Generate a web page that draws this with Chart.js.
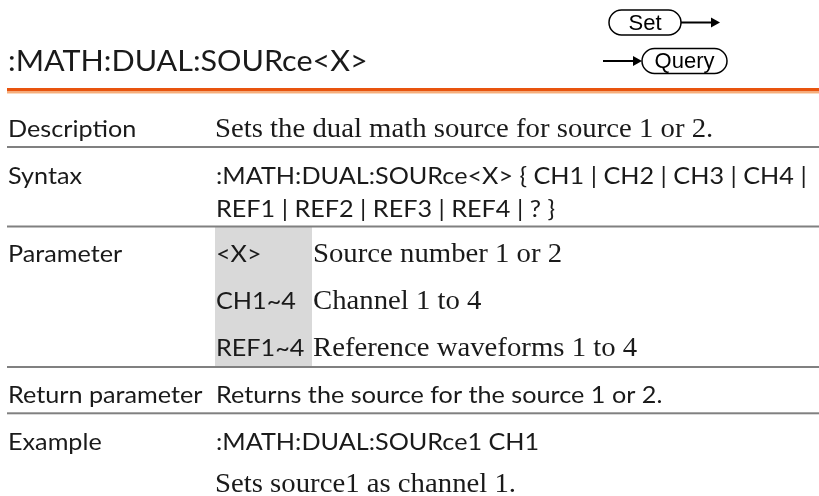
<!DOCTYPE html>
<html>
<head>
<meta charset="utf-8">
<script src="https://cdn.jsdelivr.net/npm/chart.js@4.4.1/dist/chart.umd.min.js"></script>
<style>
    html, body { margin: 0; padding: 0; background: #ffffff; }
    #wrap { position: relative; width: 819px; height: 496px; }
</style>
</head>
<body>
<div id="wrap"><canvas id="docChart"></canvas></div>
<script>
// Page content
const titleText = ':MATH:DUAL:SOURce<X>';
const modeLabels = ['Set', 'Query'];
const rowLabels = ['Description', 'Syntax', 'Parameter', 'Return parameter', 'Example'];
const descriptionLines = ['Sets the dual math source for source 1 or 2.'];
const syntaxLines = [':MATH:DUAL:SOURce<X> { CH1 | CH2 | CH3 | CH4 |', 'REF1 | REF2 | REF3 | REF4 | ? }'];
const paramKeys = ['<X>', 'CH1~4', 'REF1~4'];
const paramTexts = ['Source number 1 or 2', 'Channel 1 to 4', 'Reference waveforms 1 to 4'];
const returnLines = ['Returns the source for the source 1 or 2.'];
const exampleLines = [':MATH:DUAL:SOURce1 CH1', 'Sets source1 as channel 1.'];

const SANS = 'Lato, "Open Sans", sans-serif';
const SERIF = '"Liberation Serif", "DejaVu Serif", serif';
// the page fonts are a bit wider than the installed ones
const SANS_STRETCH = 1.05;
const TITLE_STRETCH = 1.09;
const SERIF_STRETCH = 1.085;

// Layout (page units, same as pixels)
const labelX = 8, valueX = 216, paramTextX = 313;
const ruleLeft = 7;
const titleBaseline = 71;
const rowBaselines = [[137], [184, 217], [262, 309, 356], [403], [450, 492]];
const ruleYs = [147, 226.5, 367, 413.3];
const paramCol = { x0: 215, x1: 312, y0: 227, y1: 366 };

function px(chart, x) { return chart.scales.x.getPixelForValue(x); }
function py(chart, y) { return chart.scales.y.getPixelForValue(y); }

function drawText(ctx, chart, text, x, y, font, stretch) {
    ctx.save();
    ctx.font = font;
    ctx.fillStyle = '#1a1a1a';
    ctx.textBaseline = 'alphabetic';
    ctx.textAlign = 'left';
    ctx.translate(px(chart, x), py(chart, y));
    ctx.scale(stretch || 1, 1);
    ctx.fillText(text, 0, 0);
    ctx.restore();
}

function sans(ctx, chart, text, x, y) { drawText(ctx, chart, text, x, y, '24px ' + SANS, SANS_STRETCH); }
function serif(ctx, chart, text, x, y) { drawText(ctx, chart, text, x, y, '26.5px ' + SERIF, SERIF_STRETCH); }

function drawPill(ctx, chart, label, x0, x1, yc) {
    const h = 25;
    const left = px(chart, x0), right = px(chart, x1), mid = py(chart, yc);
    ctx.beginPath();
    ctx.roundRect(left, mid - h / 2, right - left, h, h / 2);
    ctx.fillStyle = '#ffffff';
    ctx.fill();
    ctx.lineWidth = 1.5;
    ctx.strokeStyle = '#000000';
    ctx.stroke();
    ctx.font = '22px "Liberation Sans", Arial, sans-serif';
    ctx.fillStyle = '#000000';
    ctx.textAlign = 'center';
    ctx.textBaseline = 'middle';
    ctx.fillText(label, (left + right) / 2, mid + 1);
}

function drawArrow(ctx, chart, x0, x1, yc) {
    const a = px(chart, x0), b = px(chart, x1), y = py(chart, yc);
    ctx.strokeStyle = '#000000';
    ctx.lineWidth = 2;
    ctx.beginPath();
    ctx.moveTo(a, y);
    ctx.lineTo(b - 6, y);
    ctx.stroke();
    ctx.fillStyle = '#000000';
    ctx.beginPath();
    ctx.moveTo(b, y);
    ctx.lineTo(b - 9, y - 5);
    ctx.lineTo(b - 9, y + 5);
    ctx.closePath();
    ctx.fill();
}

const docPlugin = {
    id: 'docPage',
    afterDraw(chart) {
        const ctx = chart.ctx;
        const right = px(chart, 819);
        const left = px(chart, ruleLeft);
        ctx.save();

        // title + set/query marks
        drawText(ctx, chart, titleText, labelX, titleBaseline, '28px ' + SANS, TITLE_STRETCH);
        drawPill(ctx, chart, modeLabels[0], 609, 681, 22.5);
        drawArrow(ctx, chart, 681, 720, 22.5);
        drawArrow(ctx, chart, 603, 642, 61);
        drawPill(ctx, chart, modeLabels[1], 642, 727, 61);

        // orange header rule
        ctx.fillStyle = '#e8540e';
        ctx.fillRect(left, py(chart, 88), right - left, 3.5);
        ctx.fillStyle = '#f6ae7a';
        ctx.fillRect(left, py(chart, 91.5), right - left, 1.5);
        ctx.fillStyle = '#fbd9bf';
        ctx.fillRect(left, py(chart, 93), right - left, 1);

        // parameter key column
        ctx.fillStyle = '#d9d9d9';
        ctx.fillRect(px(chart, paramCol.x0), py(chart, paramCol.y0),
            px(chart, paramCol.x1) - px(chart, paramCol.x0), py(chart, paramCol.y1) - py(chart, paramCol.y0));

        // row separators
        ctx.fillStyle = '#808080';
        ruleYs.forEach(y => {
            ctx.fillRect(left, py(chart, y) - 1, right - left, 2);
        });

        // row labels
        rowLabels.forEach((label, i) => sans(ctx, chart, label, labelX, rowBaselines[i][0]));

        // row values
        serif(ctx, chart, descriptionLines[0], valueX - 1, rowBaselines[0][0]);
        syntaxLines.forEach((line, i) => sans(ctx, chart, line, valueX, rowBaselines[1][i]));
        paramKeys.forEach((key, i) => {
            sans(ctx, chart, key, valueX, rowBaselines[2][i]);
            serif(ctx, chart, paramTexts[i], paramTextX, rowBaselines[2][i]);
        });
        sans(ctx, chart, returnLines[0], valueX, rowBaselines[3][0]);
        sans(ctx, chart, exampleLines[0], valueX, rowBaselines[4][0]);
        serif(ctx, chart, exampleLines[1], valueX - 1, rowBaselines[4][1]);

        ctx.restore();
    }
};

new Chart(document.getElementById('docChart').getContext('2d'), {
    type: 'scatter',
    data: { datasets: [{ data: [], pointRadius: 0 }] },
    options: {
        responsive: true,
        maintainAspectRatio: false,
        animation: false,
        events: [],
        layout: { padding: 0 },
        plugins: { legend: { display: false }, tooltip: { enabled: false } },
        scales: {
            x: { type: 'linear', min: 0, max: 819, display: false },
            y: { type: 'linear', min: 0, max: 496, reverse: true, display: false }
        }
    },
    plugins: [docPlugin]
});
</script>
</body>
</html>
